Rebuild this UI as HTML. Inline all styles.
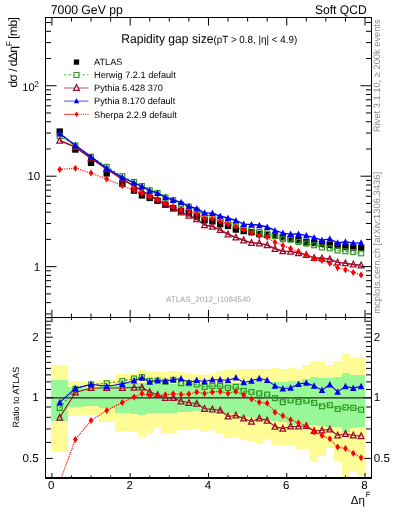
<!DOCTYPE html><html><head><meta charset="utf-8"><style>html,body{margin:0;padding:0;background:#fff;width:393px;height:512px;overflow:hidden}svg{display:block;font-family:"Liberation Sans",sans-serif}svg{will-change:transform}text{text-rendering:geometricPrecision}</style></head><body>
<svg width="393" height="512" viewBox="0 0 393 512">
<defs><clipPath id="cm"><rect x="45.5" y="17.5" width="326" height="300"/></clipPath>
<clipPath id="cr"><rect x="45.5" y="317.5" width="326" height="160.5"/></clipPath></defs>
<g clip-path="url(#cr)" shape-rendering="crispEdges">
<rect x="51.1" y="365.1" width="16.66" height="86.4" fill="#fffc96"/>
<rect x="67.56" y="381.3" width="15.86" height="34.2" fill="#fffc96"/>
<rect x="83.21" y="382" width="15.86" height="32.5" fill="#fffc96"/>
<rect x="98.87" y="379.5" width="15.86" height="42.3" fill="#fffc96"/>
<rect x="114.52" y="374" width="15.86" height="57" fill="#fffc96"/>
<rect x="130.18" y="373.8" width="8.03" height="58.2" fill="#fffc96"/>
<rect x="138.01" y="370" width="8.03" height="67.4" fill="#fffc96"/>
<rect x="145.84" y="372.4" width="8.03" height="60.6" fill="#fffc96"/>
<rect x="153.66" y="371.3" width="8.03" height="57" fill="#fffc96"/>
<rect x="161.49" y="371.8" width="8.03" height="60.7" fill="#fffc96"/>
<rect x="169.32" y="371.3" width="8.03" height="61.2" fill="#fffc96"/>
<rect x="177.15" y="372.2" width="8.03" height="57.3" fill="#fffc96"/>
<rect x="184.98" y="372.6" width="8.03" height="56.9" fill="#fffc96"/>
<rect x="192.8" y="373.8" width="8.03" height="54.7" fill="#fffc96"/>
<rect x="200.63" y="375.3" width="8.03" height="56.2" fill="#fffc96"/>
<rect x="208.46" y="374.3" width="8.03" height="55.7" fill="#fffc96"/>
<rect x="216.29" y="371.2" width="8.03" height="62.7" fill="#fffc96"/>
<rect x="224.12" y="370.2" width="8.03" height="67.6" fill="#fffc96"/>
<rect x="231.94" y="369.8" width="8.03" height="67.3" fill="#fffc96"/>
<rect x="239.77" y="369.2" width="8.03" height="70.8" fill="#fffc96"/>
<rect x="247.6" y="369.2" width="8.03" height="72" fill="#fffc96"/>
<rect x="255.43" y="368.6" width="8.03" height="74.9" fill="#fffc96"/>
<rect x="263.26" y="369.2" width="8.03" height="70.2" fill="#fffc96"/>
<rect x="271.08" y="368.1" width="8.03" height="76.6" fill="#fffc96"/>
<rect x="278.91" y="369.2" width="8.03" height="75.5" fill="#fffc96"/>
<rect x="286.74" y="368" width="8.03" height="76.6" fill="#fffc96"/>
<rect x="294.57" y="369.1" width="8.03" height="80.2" fill="#fffc96"/>
<rect x="302.4" y="364.6" width="8.03" height="84.7" fill="#fffc96"/>
<rect x="310.22" y="361.3" width="8.03" height="100.7" fill="#fffc96"/>
<rect x="318.05" y="361.7" width="8.03" height="93.8" fill="#fffc96"/>
<rect x="325.88" y="364.6" width="8.03" height="83" fill="#fffc96"/>
<rect x="333.71" y="360.8" width="8.03" height="101" fill="#fffc96"/>
<rect x="341.54" y="353.9" width="8.03" height="124.6" fill="#fffc96"/>
<rect x="349.36" y="357.9" width="8.03" height="114.1" fill="#fffc96"/>
<rect x="357.19" y="356.8" width="8.03" height="119.5" fill="#fffc96"/>
<rect x="51.1" y="380.2" width="16.66" height="40.3" fill="#98f898"/>
<rect x="67.56" y="387" width="15.86" height="19.8" fill="#98f898"/>
<rect x="83.21" y="388" width="15.86" height="17.8" fill="#98f898"/>
<rect x="98.87" y="386.3" width="15.86" height="21.7" fill="#98f898"/>
<rect x="114.52" y="383" width="15.86" height="30" fill="#98f898"/>
<rect x="130.18" y="383" width="8.03" height="31" fill="#98f898"/>
<rect x="138.01" y="383" width="8.03" height="31.5" fill="#98f898"/>
<rect x="145.84" y="383.5" width="8.03" height="29.9" fill="#98f898"/>
<rect x="153.66" y="383.5" width="8.03" height="29.9" fill="#98f898"/>
<rect x="161.49" y="383.5" width="8.03" height="29.9" fill="#98f898"/>
<rect x="169.32" y="383.5" width="8.03" height="29.9" fill="#98f898"/>
<rect x="177.15" y="384" width="8.03" height="28" fill="#98f898"/>
<rect x="184.98" y="384" width="8.03" height="28" fill="#98f898"/>
<rect x="192.8" y="384" width="8.03" height="27" fill="#98f898"/>
<rect x="200.63" y="384.5" width="8.03" height="26" fill="#98f898"/>
<rect x="208.46" y="384" width="8.03" height="27.4" fill="#98f898"/>
<rect x="216.29" y="384" width="8.03" height="28.6" fill="#98f898"/>
<rect x="224.12" y="383.4" width="8.03" height="30.3" fill="#98f898"/>
<rect x="231.94" y="383" width="8.03" height="31.2" fill="#98f898"/>
<rect x="239.77" y="382.5" width="8.03" height="34" fill="#98f898"/>
<rect x="247.6" y="382.4" width="8.03" height="34.8" fill="#98f898"/>
<rect x="255.43" y="381.4" width="8.03" height="38.1" fill="#98f898"/>
<rect x="263.26" y="381.6" width="8.03" height="38.6" fill="#98f898"/>
<rect x="271.08" y="381.6" width="8.03" height="39" fill="#98f898"/>
<rect x="278.91" y="381.6" width="8.03" height="40.2" fill="#98f898"/>
<rect x="286.74" y="381" width="8.03" height="44" fill="#98f898"/>
<rect x="294.57" y="381" width="8.03" height="42.8" fill="#98f898"/>
<rect x="302.4" y="378.5" width="8.03" height="46.5" fill="#98f898"/>
<rect x="310.22" y="376.9" width="8.03" height="48.1" fill="#98f898"/>
<rect x="318.05" y="377.6" width="8.03" height="48.4" fill="#98f898"/>
<rect x="325.88" y="378" width="8.03" height="49.2" fill="#98f898"/>
<rect x="333.71" y="376.9" width="8.03" height="50.3" fill="#98f898"/>
<rect x="341.54" y="373.1" width="8.03" height="58.6" fill="#98f898"/>
<rect x="349.36" y="374.7" width="8.03" height="52.8" fill="#98f898"/>
<rect x="357.19" y="374.7" width="8.03" height="52" fill="#98f898"/>
</g>
<line x1="45.5" y1="397.8" x2="371.5" y2="397.8" stroke="#222" stroke-width="1.2"/>
<g clip-path="url(#cm)">
<rect x="56.53" y="128.4" width="6.4" height="6.4" fill="#000"/>
<rect x="72.18" y="146.3" width="6.4" height="6.4" fill="#000"/>
<rect x="87.84" y="159.6" width="6.4" height="6.4" fill="#000"/>
<rect x="103.5" y="170.2" width="6.4" height="6.4" fill="#000"/>
<rect x="119.15" y="180.5" width="6.4" height="6.4" fill="#000"/>
<rect x="130.89" y="187.4" width="6.4" height="6.4" fill="#000"/>
<rect x="138.72" y="192.2" width="6.4" height="6.4" fill="#000"/>
<rect x="146.55" y="194.7" width="6.4" height="6.4" fill="#000"/>
<rect x="154.38" y="197.6" width="6.4" height="6.4" fill="#000"/>
<rect x="162.21" y="201.5" width="6.4" height="6.4" fill="#000"/>
<rect x="170.03" y="205" width="6.4" height="6.4" fill="#000"/>
<rect x="177.86" y="207.7" width="6.4" height="6.4" fill="#000"/>
<rect x="185.69" y="210" width="6.4" height="6.4" fill="#000"/>
<rect x="193.52" y="213.3" width="6.4" height="6.4" fill="#000"/>
<rect x="201.35" y="217" width="6.4" height="6.4" fill="#000"/>
<rect x="209.17" y="218.1" width="6.4" height="6.4" fill="#000"/>
<rect x="217" y="221" width="6.4" height="6.4" fill="#000"/>
<rect x="224.83" y="222.7" width="6.4" height="6.4" fill="#000"/>
<rect x="232.66" y="226.3" width="6.4" height="6.4" fill="#000"/>
<rect x="240.49" y="227.8" width="6.4" height="6.4" fill="#000"/>
<rect x="248.31" y="229" width="6.4" height="6.4" fill="#000"/>
<rect x="256.14" y="230.8" width="6.4" height="6.4" fill="#000"/>
<rect x="263.97" y="231.7" width="6.4" height="6.4" fill="#000"/>
<rect x="271.8" y="232.6" width="6.4" height="6.4" fill="#000"/>
<rect x="279.63" y="234.1" width="6.4" height="6.4" fill="#000"/>
<rect x="287.45" y="235.4" width="6.4" height="6.4" fill="#000"/>
<rect x="295.28" y="237" width="6.4" height="6.4" fill="#000"/>
<rect x="303.11" y="239.1" width="6.4" height="6.4" fill="#000"/>
<rect x="310.94" y="239.8" width="6.4" height="6.4" fill="#000"/>
<rect x="318.77" y="240.4" width="6.4" height="6.4" fill="#000"/>
<rect x="326.59" y="241.7" width="6.4" height="6.4" fill="#000"/>
<rect x="334.42" y="242.3" width="6.4" height="6.4" fill="#000"/>
<rect x="342.25" y="243.8" width="6.4" height="6.4" fill="#000"/>
<rect x="350.08" y="244.3" width="6.4" height="6.4" fill="#000"/>
<rect x="357.91" y="244.8" width="6.4" height="6.4" fill="#000"/>
</g>
<g clip-path="url(#cm)"><polyline points="59.73,136.18 75.38,145.55 91.04,156.78 106.7,166.88 122.35,176.15 134.09,181.93 141.92,186.1 149.75,190.26 157.58,193.07 165.41,197.51 173.23,200.16 181.06,204.29 188.89,206.64 196.72,210.48 204.55,215.3 212.37,215.95 220.2,218.85 228.03,221.45 235.86,224.6 243.69,227.9 251.51,229.59 259.34,232.02 267.17,233.46 275,235.93 282.83,239.28 290.65,239.72 298.48,242 306.31,243.6 314.14,245.29 321.97,247.42 329.79,248.23 337.62,250.53 345.45,251.31 353.28,252.04 361.11,253.35" fill="none" stroke="#2f9a1f" stroke-width="1.3" stroke-dasharray="2 2"/><rect x="57.28" y="133.73" width="4.9" height="4.9" fill="none" stroke="#2f9a1f" stroke-width="1.2"/><rect x="72.93" y="143.1" width="4.9" height="4.9" fill="none" stroke="#2f9a1f" stroke-width="1.2"/><rect x="88.59" y="154.33" width="4.9" height="4.9" fill="none" stroke="#2f9a1f" stroke-width="1.2"/><rect x="104.25" y="164.43" width="4.9" height="4.9" fill="none" stroke="#2f9a1f" stroke-width="1.2"/><rect x="119.9" y="173.7" width="4.9" height="4.9" fill="none" stroke="#2f9a1f" stroke-width="1.2"/><rect x="131.64" y="179.48" width="4.9" height="4.9" fill="none" stroke="#2f9a1f" stroke-width="1.2"/><rect x="139.47" y="183.65" width="4.9" height="4.9" fill="none" stroke="#2f9a1f" stroke-width="1.2"/><rect x="147.3" y="187.81" width="4.9" height="4.9" fill="none" stroke="#2f9a1f" stroke-width="1.2"/><rect x="155.13" y="190.62" width="4.9" height="4.9" fill="none" stroke="#2f9a1f" stroke-width="1.2"/><rect x="162.96" y="195.06" width="4.9" height="4.9" fill="none" stroke="#2f9a1f" stroke-width="1.2"/><rect x="170.78" y="197.71" width="4.9" height="4.9" fill="none" stroke="#2f9a1f" stroke-width="1.2"/><rect x="178.61" y="201.84" width="4.9" height="4.9" fill="none" stroke="#2f9a1f" stroke-width="1.2"/><rect x="186.44" y="204.19" width="4.9" height="4.9" fill="none" stroke="#2f9a1f" stroke-width="1.2"/><rect x="194.27" y="208.03" width="4.9" height="4.9" fill="none" stroke="#2f9a1f" stroke-width="1.2"/><rect x="202.1" y="212.85" width="4.9" height="4.9" fill="none" stroke="#2f9a1f" stroke-width="1.2"/><rect x="209.92" y="213.5" width="4.9" height="4.9" fill="none" stroke="#2f9a1f" stroke-width="1.2"/><rect x="217.75" y="216.4" width="4.9" height="4.9" fill="none" stroke="#2f9a1f" stroke-width="1.2"/><rect x="225.58" y="219" width="4.9" height="4.9" fill="none" stroke="#2f9a1f" stroke-width="1.2"/><rect x="233.41" y="222.15" width="4.9" height="4.9" fill="none" stroke="#2f9a1f" stroke-width="1.2"/><rect x="241.24" y="225.45" width="4.9" height="4.9" fill="none" stroke="#2f9a1f" stroke-width="1.2"/><rect x="249.06" y="227.14" width="4.9" height="4.9" fill="none" stroke="#2f9a1f" stroke-width="1.2"/><rect x="256.89" y="229.57" width="4.9" height="4.9" fill="none" stroke="#2f9a1f" stroke-width="1.2"/><rect x="264.72" y="231.01" width="4.9" height="4.9" fill="none" stroke="#2f9a1f" stroke-width="1.2"/><rect x="272.55" y="233.48" width="4.9" height="4.9" fill="none" stroke="#2f9a1f" stroke-width="1.2"/><rect x="280.38" y="236.83" width="4.9" height="4.9" fill="none" stroke="#2f9a1f" stroke-width="1.2"/><rect x="288.2" y="237.27" width="4.9" height="4.9" fill="none" stroke="#2f9a1f" stroke-width="1.2"/><rect x="296.03" y="239.55" width="4.9" height="4.9" fill="none" stroke="#2f9a1f" stroke-width="1.2"/><rect x="303.86" y="241.15" width="4.9" height="4.9" fill="none" stroke="#2f9a1f" stroke-width="1.2"/><rect x="311.69" y="242.84" width="4.9" height="4.9" fill="none" stroke="#2f9a1f" stroke-width="1.2"/><rect x="319.52" y="244.97" width="4.9" height="4.9" fill="none" stroke="#2f9a1f" stroke-width="1.2"/><rect x="327.34" y="245.78" width="4.9" height="4.9" fill="none" stroke="#2f9a1f" stroke-width="1.2"/><rect x="335.17" y="248.08" width="4.9" height="4.9" fill="none" stroke="#2f9a1f" stroke-width="1.2"/><rect x="343" y="248.86" width="4.9" height="4.9" fill="none" stroke="#2f9a1f" stroke-width="1.2"/><rect x="350.83" y="249.59" width="4.9" height="4.9" fill="none" stroke="#2f9a1f" stroke-width="1.2"/><rect x="358.66" y="250.9" width="4.9" height="4.9" fill="none" stroke="#2f9a1f" stroke-width="1.2"/></g>
<g clip-path="url(#cm)"><polyline points="59.73,140.5 75.38,147.07 91.04,158.35 106.7,168.95 122.35,179.25 134.09,186.02 141.92,190.73 149.75,195.29 157.58,199.45 165.41,204.66 173.23,208.24 181.06,212.43 188.89,215.45 196.72,219.11 204.55,225.1 212.37,226.47 220.2,229.82 228.03,234.26 235.86,237.41 243.69,240.26 251.51,242.85 259.34,243.26 267.17,245.1 275,248.74 282.83,251.14 290.65,251.45 298.48,253.05 306.31,254.88 314.14,257.87 321.97,258.2 329.79,259.1 337.62,262.39 345.45,263.18 353.28,264.39 361.11,265.21" fill="none" stroke="#9c0a28" stroke-width="1.5"/><polygon points="59.73,137.36 56.88,143.06 62.58,143.06" fill="none" stroke="#9c0a28" stroke-width="1.25"/><polygon points="75.38,143.94 72.53,149.64 78.23,149.64" fill="none" stroke="#9c0a28" stroke-width="1.25"/><polygon points="91.04,155.22 88.19,160.92 93.89,160.92" fill="none" stroke="#9c0a28" stroke-width="1.25"/><polygon points="106.7,165.82 103.85,171.52 109.55,171.52" fill="none" stroke="#9c0a28" stroke-width="1.25"/><polygon points="122.35,176.12 119.5,181.82 125.2,181.82" fill="none" stroke="#9c0a28" stroke-width="1.25"/><polygon points="134.09,182.88 131.24,188.58 136.94,188.58" fill="none" stroke="#9c0a28" stroke-width="1.25"/><polygon points="141.92,187.59 139.07,193.29 144.77,193.29" fill="none" stroke="#9c0a28" stroke-width="1.25"/><polygon points="149.75,192.16 146.9,197.86 152.6,197.86" fill="none" stroke="#9c0a28" stroke-width="1.25"/><polygon points="157.58,196.32 154.73,202.02 160.43,202.02" fill="none" stroke="#9c0a28" stroke-width="1.25"/><polygon points="165.41,201.52 162.56,207.22 168.26,207.22" fill="none" stroke="#9c0a28" stroke-width="1.25"/><polygon points="173.23,205.11 170.38,210.81 176.08,210.81" fill="none" stroke="#9c0a28" stroke-width="1.25"/><polygon points="181.06,209.29 178.21,214.99 183.91,214.99" fill="none" stroke="#9c0a28" stroke-width="1.25"/><polygon points="188.89,212.31 186.04,218.01 191.74,218.01" fill="none" stroke="#9c0a28" stroke-width="1.25"/><polygon points="196.72,215.97 193.87,221.67 199.57,221.67" fill="none" stroke="#9c0a28" stroke-width="1.25"/><polygon points="204.55,221.96 201.7,227.66 207.4,227.66" fill="none" stroke="#9c0a28" stroke-width="1.25"/><polygon points="212.37,223.33 209.52,229.03 215.22,229.03" fill="none" stroke="#9c0a28" stroke-width="1.25"/><polygon points="220.2,226.68 217.35,232.38 223.05,232.38" fill="none" stroke="#9c0a28" stroke-width="1.25"/><polygon points="228.03,231.12 225.18,236.82 230.88,236.82" fill="none" stroke="#9c0a28" stroke-width="1.25"/><polygon points="235.86,234.27 233.01,239.97 238.71,239.97" fill="none" stroke="#9c0a28" stroke-width="1.25"/><polygon points="243.69,237.12 240.84,242.82 246.54,242.82" fill="none" stroke="#9c0a28" stroke-width="1.25"/><polygon points="251.51,239.71 248.66,245.41 254.36,245.41" fill="none" stroke="#9c0a28" stroke-width="1.25"/><polygon points="259.34,240.12 256.49,245.82 262.19,245.82" fill="none" stroke="#9c0a28" stroke-width="1.25"/><polygon points="267.17,241.96 264.32,247.66 270.02,247.66" fill="none" stroke="#9c0a28" stroke-width="1.25"/><polygon points="275,245.61 272.15,251.31 277.85,251.31" fill="none" stroke="#9c0a28" stroke-width="1.25"/><polygon points="282.83,248 279.98,253.7 285.68,253.7" fill="none" stroke="#9c0a28" stroke-width="1.25"/><polygon points="290.65,248.32 287.8,254.02 293.5,254.02" fill="none" stroke="#9c0a28" stroke-width="1.25"/><polygon points="298.48,249.92 295.63,255.62 301.33,255.62" fill="none" stroke="#9c0a28" stroke-width="1.25"/><polygon points="306.31,251.75 303.46,257.45 309.16,257.45" fill="none" stroke="#9c0a28" stroke-width="1.25"/><polygon points="314.14,254.74 311.29,260.44 316.99,260.44" fill="none" stroke="#9c0a28" stroke-width="1.25"/><polygon points="321.97,255.07 319.12,260.77 324.82,260.77" fill="none" stroke="#9c0a28" stroke-width="1.25"/><polygon points="329.79,255.96 326.94,261.66 332.64,261.66" fill="none" stroke="#9c0a28" stroke-width="1.25"/><polygon points="337.62,259.26 334.77,264.96 340.47,264.96" fill="none" stroke="#9c0a28" stroke-width="1.25"/><polygon points="345.45,260.04 342.6,265.74 348.3,265.74" fill="none" stroke="#9c0a28" stroke-width="1.25"/><polygon points="353.28,261.26 350.43,266.96 356.13,266.96" fill="none" stroke="#9c0a28" stroke-width="1.25"/><polygon points="361.11,262.07 358.26,267.77 363.96,267.77" fill="none" stroke="#9c0a28" stroke-width="1.25"/></g>
<g clip-path="url(#cm)"><polyline points="59.73,133.62 75.38,145.23 91.04,156.78 106.7,168.23 122.35,177.5 134.09,182.92 141.92,186.41 149.75,190.71 157.58,192.98 165.41,197.24 173.23,199.98 181.06,202.32 188.89,206.28 196.72,208.59 204.55,212.83 212.37,213.17 220.2,216.07 228.03,217.99 235.86,220.47 243.69,224.08 251.51,224.56 259.34,225.24 267.17,226.99 275,230.45 282.83,233.12 290.65,234.15 298.48,234.04 306.31,235.6 314.14,237.65 321.97,240.14 329.79,238.92 337.62,242.85 345.45,241.83 353.28,243.14 361.11,242.83" fill="none" stroke="#0000f0" stroke-width="1.4"/><polygon points="59.73,130.05 56.48,136.55 62.98,136.55" fill="#0000f0"/><polygon points="75.38,141.66 72.13,148.16 78.63,148.16" fill="#0000f0"/><polygon points="91.04,153.2 87.79,159.7 94.29,159.7" fill="#0000f0"/><polygon points="106.7,164.66 103.45,171.16 109.95,171.16" fill="#0000f0"/><polygon points="122.35,173.92 119.1,180.42 125.6,180.42" fill="#0000f0"/><polygon points="134.09,179.34 130.84,185.84 137.34,185.84" fill="#0000f0"/><polygon points="141.92,182.84 138.67,189.34 145.17,189.34" fill="#0000f0"/><polygon points="149.75,187.14 146.5,193.64 153,193.64" fill="#0000f0"/><polygon points="157.58,189.41 154.33,195.91 160.83,195.91" fill="#0000f0"/><polygon points="165.41,193.67 162.16,200.17 168.66,200.17" fill="#0000f0"/><polygon points="173.23,196.4 169.98,202.9 176.48,202.9" fill="#0000f0"/><polygon points="181.06,198.74 177.81,205.24 184.31,205.24" fill="#0000f0"/><polygon points="188.89,202.71 185.64,209.21 192.14,209.21" fill="#0000f0"/><polygon points="196.72,205.02 193.47,211.52 199.97,211.52" fill="#0000f0"/><polygon points="204.55,209.26 201.3,215.76 207.8,215.76" fill="#0000f0"/><polygon points="212.37,209.59 209.12,216.09 215.62,216.09" fill="#0000f0"/><polygon points="220.2,212.49 216.95,218.99 223.45,218.99" fill="#0000f0"/><polygon points="228.03,214.42 224.78,220.92 231.28,220.92" fill="#0000f0"/><polygon points="235.86,216.89 232.61,223.39 239.11,223.39" fill="#0000f0"/><polygon points="243.69,220.51 240.44,227.01 246.94,227.01" fill="#0000f0"/><polygon points="251.51,220.99 248.26,227.49 254.76,227.49" fill="#0000f0"/><polygon points="259.34,221.66 256.09,228.16 262.59,228.16" fill="#0000f0"/><polygon points="267.17,223.42 263.92,229.92 270.42,229.92" fill="#0000f0"/><polygon points="275,226.88 271.75,233.38 278.25,233.38" fill="#0000f0"/><polygon points="282.83,229.55 279.58,236.05 286.08,236.05" fill="#0000f0"/><polygon points="290.65,230.58 287.4,237.08 293.9,237.08" fill="#0000f0"/><polygon points="298.48,230.47 295.23,236.97 301.73,236.97" fill="#0000f0"/><polygon points="306.31,232.03 303.06,238.53 309.56,238.53" fill="#0000f0"/><polygon points="314.14,234.08 310.89,240.58 317.39,240.58" fill="#0000f0"/><polygon points="321.97,236.57 318.72,243.07 325.22,243.07" fill="#0000f0"/><polygon points="329.79,235.35 326.54,241.85 333.04,241.85" fill="#0000f0"/><polygon points="337.62,239.27 334.37,245.77 340.87,245.77" fill="#0000f0"/><polygon points="345.45,238.26 342.2,244.76 348.7,244.76" fill="#0000f0"/><polygon points="353.28,239.57 350.03,246.07 356.53,246.07" fill="#0000f0"/><polygon points="361.11,239.26 357.86,245.76 364.36,245.76" fill="#0000f0"/></g>
<g clip-path="url(#cm)"><polyline points="59.73,169.43 75.38,168.19 91.04,173.04 106.7,179.06 122.35,185.77 134.09,190.29 141.92,193.51 149.75,197 157.58,199.72 165.41,203.35 173.23,206.4 181.06,209.46 188.89,211.49 196.72,213.89 204.55,218.22 212.37,218.69 220.2,221.32 228.03,223.92 235.86,226.62 243.69,229.74 251.51,232.78 259.34,235.98 267.17,237.33 275,242.32 282.83,245.39 290.65,248.44 298.48,251.57 306.31,254.88 314.14,258.41 321.97,260.49 329.79,263.32 337.62,267.65 345.45,269.74 353.28,272.44 361.11,274.96" fill="none" stroke="#ff0000" stroke-width="1.3" stroke-dasharray="1 1.3"/><polygon points="59.73,165.93 62.08,169.43 59.73,172.93 57.38,169.43" fill="#ff0000"/><polygon points="75.38,164.69 77.73,168.19 75.38,171.69 73.03,168.19" fill="#ff0000"/><polygon points="91.04,169.54 93.39,173.04 91.04,176.54 88.69,173.04" fill="#ff0000"/><polygon points="106.7,175.56 109.05,179.06 106.7,182.56 104.35,179.06" fill="#ff0000"/><polygon points="122.35,182.27 124.7,185.77 122.35,189.27 120,185.77" fill="#ff0000"/><polygon points="134.09,186.79 136.44,190.29 134.09,193.79 131.74,190.29" fill="#ff0000"/><polygon points="141.92,190.01 144.27,193.51 141.92,197.01 139.57,193.51" fill="#ff0000"/><polygon points="149.75,193.5 152.1,197 149.75,200.5 147.4,197" fill="#ff0000"/><polygon points="157.58,196.22 159.93,199.72 157.58,203.22 155.23,199.72" fill="#ff0000"/><polygon points="165.41,199.85 167.76,203.35 165.41,206.85 163.06,203.35" fill="#ff0000"/><polygon points="173.23,202.9 175.58,206.4 173.23,209.9 170.88,206.4" fill="#ff0000"/><polygon points="181.06,205.96 183.41,209.46 181.06,212.96 178.71,209.46" fill="#ff0000"/><polygon points="188.89,207.99 191.24,211.49 188.89,214.99 186.54,211.49" fill="#ff0000"/><polygon points="196.72,210.39 199.07,213.89 196.72,217.39 194.37,213.89" fill="#ff0000"/><polygon points="204.55,214.72 206.9,218.22 204.55,221.72 202.2,218.22" fill="#ff0000"/><polygon points="212.37,215.19 214.72,218.69 212.37,222.19 210.02,218.69" fill="#ff0000"/><polygon points="220.2,217.82 222.55,221.32 220.2,224.82 217.85,221.32" fill="#ff0000"/><polygon points="228.03,220.42 230.38,223.92 228.03,227.42 225.68,223.92" fill="#ff0000"/><polygon points="235.86,223.12 238.21,226.62 235.86,230.12 233.51,226.62" fill="#ff0000"/><polygon points="243.69,226.24 246.04,229.74 243.69,233.24 241.34,229.74" fill="#ff0000"/><polygon points="251.51,229.28 253.86,232.78 251.51,236.28 249.16,232.78" fill="#ff0000"/><polygon points="259.34,232.48 261.69,235.98 259.34,239.48 256.99,235.98" fill="#ff0000"/><polygon points="267.17,233.83 269.52,237.33 267.17,240.83 264.82,237.33" fill="#ff0000"/><polygon points="275,238.82 277.35,242.32 275,245.82 272.65,242.32" fill="#ff0000"/><polygon points="282.83,241.89 285.18,245.39 282.83,248.89 280.48,245.39" fill="#ff0000"/><polygon points="290.65,244.94 293,248.44 290.65,251.94 288.3,248.44" fill="#ff0000"/><polygon points="298.48,248.07 300.83,251.57 298.48,255.07 296.13,251.57" fill="#ff0000"/><polygon points="306.31,251.38 308.66,254.88 306.31,258.38 303.96,254.88" fill="#ff0000"/><polygon points="314.14,254.91 316.49,258.41 314.14,261.91 311.79,258.41" fill="#ff0000"/><polygon points="321.97,256.99 324.32,260.49 321.97,263.99 319.62,260.49" fill="#ff0000"/><polygon points="329.79,259.82 332.14,263.32 329.79,266.82 327.44,263.32" fill="#ff0000"/><polygon points="337.62,264.15 339.97,267.65 337.62,271.15 335.27,267.65" fill="#ff0000"/><polygon points="345.45,266.24 347.8,269.74 345.45,273.24 343.1,269.74" fill="#ff0000"/><polygon points="353.28,268.94 355.63,272.44 353.28,275.94 350.93,272.44" fill="#ff0000"/><polygon points="361.11,271.46 363.46,274.96 361.11,278.46 358.76,274.96" fill="#ff0000"/></g>
<g clip-path="url(#cr)"><polyline points="59.73,408 75.38,389 91.04,384.4 106.7,383.3 122.35,381 134.09,378.5 141.92,377.1 149.75,380.8 157.58,380.6 165.41,381.8 173.23,379.9 181.06,383.1 188.89,383.2 196.72,384.4 204.55,386.9 212.37,385.9 220.2,385.9 228.03,387.9 235.86,386.9 243.69,390.9 251.51,392 259.34,393.4 267.17,394.6 275,398.1 282.83,402.2 290.65,400.3 298.48,401.8 306.31,400.7 314.14,402.9 321.97,406.3 329.79,405.2 337.62,409 345.45,407.4 353.28,407.9 361.11,409.7" fill="none" stroke="#2f9a1f" stroke-width="1.1" stroke-dasharray="2.2 2"/><rect x="57.28" y="405.55" width="4.9" height="4.9" fill="none" stroke="#2f9a1f" stroke-width="1.2"/><rect x="72.93" y="386.55" width="4.9" height="4.9" fill="none" stroke="#2f9a1f" stroke-width="1.2"/><rect x="88.59" y="381.95" width="4.9" height="4.9" fill="none" stroke="#2f9a1f" stroke-width="1.2"/><rect x="104.25" y="380.85" width="4.9" height="4.9" fill="none" stroke="#2f9a1f" stroke-width="1.2"/><rect x="119.9" y="378.55" width="4.9" height="4.9" fill="none" stroke="#2f9a1f" stroke-width="1.2"/><rect x="131.64" y="376.05" width="4.9" height="4.9" fill="none" stroke="#2f9a1f" stroke-width="1.2"/><rect x="139.47" y="374.65" width="4.9" height="4.9" fill="none" stroke="#2f9a1f" stroke-width="1.2"/><rect x="147.3" y="378.35" width="4.9" height="4.9" fill="none" stroke="#2f9a1f" stroke-width="1.2"/><rect x="155.13" y="378.15" width="4.9" height="4.9" fill="none" stroke="#2f9a1f" stroke-width="1.2"/><rect x="162.96" y="379.35" width="4.9" height="4.9" fill="none" stroke="#2f9a1f" stroke-width="1.2"/><rect x="170.78" y="377.45" width="4.9" height="4.9" fill="none" stroke="#2f9a1f" stroke-width="1.2"/><rect x="178.61" y="380.65" width="4.9" height="4.9" fill="none" stroke="#2f9a1f" stroke-width="1.2"/><rect x="186.44" y="380.75" width="4.9" height="4.9" fill="none" stroke="#2f9a1f" stroke-width="1.2"/><rect x="194.27" y="381.95" width="4.9" height="4.9" fill="none" stroke="#2f9a1f" stroke-width="1.2"/><rect x="202.1" y="384.45" width="4.9" height="4.9" fill="none" stroke="#2f9a1f" stroke-width="1.2"/><rect x="209.92" y="383.45" width="4.9" height="4.9" fill="none" stroke="#2f9a1f" stroke-width="1.2"/><rect x="217.75" y="383.45" width="4.9" height="4.9" fill="none" stroke="#2f9a1f" stroke-width="1.2"/><rect x="225.58" y="385.45" width="4.9" height="4.9" fill="none" stroke="#2f9a1f" stroke-width="1.2"/><rect x="233.41" y="384.45" width="4.9" height="4.9" fill="none" stroke="#2f9a1f" stroke-width="1.2"/><rect x="241.24" y="388.45" width="4.9" height="4.9" fill="none" stroke="#2f9a1f" stroke-width="1.2"/><rect x="249.06" y="389.55" width="4.9" height="4.9" fill="none" stroke="#2f9a1f" stroke-width="1.2"/><rect x="256.89" y="390.95" width="4.9" height="4.9" fill="none" stroke="#2f9a1f" stroke-width="1.2"/><rect x="264.72" y="392.15" width="4.9" height="4.9" fill="none" stroke="#2f9a1f" stroke-width="1.2"/><rect x="272.55" y="395.65" width="4.9" height="4.9" fill="none" stroke="#2f9a1f" stroke-width="1.2"/><rect x="280.38" y="399.75" width="4.9" height="4.9" fill="none" stroke="#2f9a1f" stroke-width="1.2"/><rect x="288.2" y="397.85" width="4.9" height="4.9" fill="none" stroke="#2f9a1f" stroke-width="1.2"/><rect x="296.03" y="399.35" width="4.9" height="4.9" fill="none" stroke="#2f9a1f" stroke-width="1.2"/><rect x="303.86" y="398.25" width="4.9" height="4.9" fill="none" stroke="#2f9a1f" stroke-width="1.2"/><rect x="311.69" y="400.45" width="4.9" height="4.9" fill="none" stroke="#2f9a1f" stroke-width="1.2"/><rect x="319.52" y="403.85" width="4.9" height="4.9" fill="none" stroke="#2f9a1f" stroke-width="1.2"/><rect x="327.34" y="402.75" width="4.9" height="4.9" fill="none" stroke="#2f9a1f" stroke-width="1.2"/><rect x="335.17" y="406.55" width="4.9" height="4.9" fill="none" stroke="#2f9a1f" stroke-width="1.2"/><rect x="343" y="404.95" width="4.9" height="4.9" fill="none" stroke="#2f9a1f" stroke-width="1.2"/><rect x="350.83" y="405.45" width="4.9" height="4.9" fill="none" stroke="#2f9a1f" stroke-width="1.2"/><rect x="358.66" y="407.25" width="4.9" height="4.9" fill="none" stroke="#2f9a1f" stroke-width="1.2"/></g>
<g clip-path="url(#cr)"><polyline points="59.73,417.6 75.38,392.4 91.04,387.9 106.7,387.9 122.35,387.9 134.09,387.6 141.92,387.4 149.75,392 157.58,394.8 165.41,397.7 173.23,397.9 181.06,401.2 188.89,402.8 196.72,403.6 204.55,408.7 212.37,409.3 220.2,410.3 228.03,416.4 235.86,415.4 243.69,418.4 251.51,421.5 259.34,418.4 267.17,420.5 275,426.6 282.83,428.6 290.65,426.4 298.48,426.4 306.31,425.8 314.14,430.9 321.97,430.3 329.79,429.4 337.62,435.4 345.45,433.8 353.28,435.4 361.11,436.1" fill="none" stroke="#9c0a28" stroke-width="1.05"/><polygon points="59.73,414.46 56.88,420.16 62.58,420.16" fill="none" stroke="#9c0a28" stroke-width="1.25"/><polygon points="75.38,389.26 72.53,394.96 78.23,394.96" fill="none" stroke="#9c0a28" stroke-width="1.25"/><polygon points="91.04,384.76 88.19,390.46 93.89,390.46" fill="none" stroke="#9c0a28" stroke-width="1.25"/><polygon points="106.7,384.76 103.85,390.46 109.55,390.46" fill="none" stroke="#9c0a28" stroke-width="1.25"/><polygon points="122.35,384.76 119.5,390.46 125.2,390.46" fill="none" stroke="#9c0a28" stroke-width="1.25"/><polygon points="134.09,384.46 131.24,390.16 136.94,390.16" fill="none" stroke="#9c0a28" stroke-width="1.25"/><polygon points="141.92,384.26 139.07,389.96 144.77,389.96" fill="none" stroke="#9c0a28" stroke-width="1.25"/><polygon points="149.75,388.87 146.9,394.56 152.6,394.56" fill="none" stroke="#9c0a28" stroke-width="1.25"/><polygon points="157.58,391.66 154.73,397.36 160.43,397.36" fill="none" stroke="#9c0a28" stroke-width="1.25"/><polygon points="165.41,394.56 162.56,400.26 168.26,400.26" fill="none" stroke="#9c0a28" stroke-width="1.25"/><polygon points="173.23,394.76 170.38,400.46 176.08,400.46" fill="none" stroke="#9c0a28" stroke-width="1.25"/><polygon points="181.06,398.06 178.21,403.76 183.91,403.76" fill="none" stroke="#9c0a28" stroke-width="1.25"/><polygon points="188.89,399.66 186.04,405.36 191.74,405.36" fill="none" stroke="#9c0a28" stroke-width="1.25"/><polygon points="196.72,400.46 193.87,406.16 199.57,406.16" fill="none" stroke="#9c0a28" stroke-width="1.25"/><polygon points="204.55,405.56 201.7,411.26 207.4,411.26" fill="none" stroke="#9c0a28" stroke-width="1.25"/><polygon points="212.37,406.16 209.52,411.86 215.22,411.86" fill="none" stroke="#9c0a28" stroke-width="1.25"/><polygon points="220.2,407.16 217.35,412.86 223.05,412.86" fill="none" stroke="#9c0a28" stroke-width="1.25"/><polygon points="228.03,413.26 225.18,418.96 230.88,418.96" fill="none" stroke="#9c0a28" stroke-width="1.25"/><polygon points="235.86,412.26 233.01,417.96 238.71,417.96" fill="none" stroke="#9c0a28" stroke-width="1.25"/><polygon points="243.69,415.26 240.84,420.96 246.54,420.96" fill="none" stroke="#9c0a28" stroke-width="1.25"/><polygon points="251.51,418.37 248.66,424.06 254.36,424.06" fill="none" stroke="#9c0a28" stroke-width="1.25"/><polygon points="259.34,415.26 256.49,420.96 262.19,420.96" fill="none" stroke="#9c0a28" stroke-width="1.25"/><polygon points="267.17,417.37 264.32,423.06 270.02,423.06" fill="none" stroke="#9c0a28" stroke-width="1.25"/><polygon points="275,423.46 272.15,429.16 277.85,429.16" fill="none" stroke="#9c0a28" stroke-width="1.25"/><polygon points="282.83,425.46 279.98,431.16 285.68,431.16" fill="none" stroke="#9c0a28" stroke-width="1.25"/><polygon points="290.65,423.26 287.8,428.96 293.5,428.96" fill="none" stroke="#9c0a28" stroke-width="1.25"/><polygon points="298.48,423.26 295.63,428.96 301.33,428.96" fill="none" stroke="#9c0a28" stroke-width="1.25"/><polygon points="306.31,422.66 303.46,428.36 309.16,428.36" fill="none" stroke="#9c0a28" stroke-width="1.25"/><polygon points="314.14,427.76 311.29,433.46 316.99,433.46" fill="none" stroke="#9c0a28" stroke-width="1.25"/><polygon points="321.97,427.16 319.12,432.86 324.82,432.86" fill="none" stroke="#9c0a28" stroke-width="1.25"/><polygon points="329.79,426.26 326.94,431.96 332.64,431.96" fill="none" stroke="#9c0a28" stroke-width="1.25"/><polygon points="337.62,432.26 334.77,437.96 340.47,437.96" fill="none" stroke="#9c0a28" stroke-width="1.25"/><polygon points="345.45,430.66 342.6,436.36 348.3,436.36" fill="none" stroke="#9c0a28" stroke-width="1.25"/><polygon points="353.28,432.26 350.43,437.96 356.13,437.96" fill="none" stroke="#9c0a28" stroke-width="1.25"/><polygon points="361.11,432.96 358.26,438.66 363.96,438.66" fill="none" stroke="#9c0a28" stroke-width="1.25"/></g>
<g clip-path="url(#cr)"><polyline points="59.73,402.3 75.38,388.3 91.04,384.4 106.7,386.3 122.35,384 134.09,380.7 141.92,377.8 149.75,381.8 157.58,380.4 165.41,381.2 173.23,379.5 181.06,378.7 188.89,382.4 196.72,380.2 204.55,381.4 212.37,379.7 220.2,379.7 228.03,380.2 235.86,377.7 243.69,382.4 251.51,380.8 259.34,378.3 267.17,380.2 275,385.9 282.83,388.5 290.65,387.9 298.48,384.1 306.31,382.9 314.14,385.9 321.97,390.1 329.79,384.5 337.62,391.9 345.45,386.3 353.28,388.1 361.11,386.3" fill="none" stroke="#0000f0" stroke-width="1.05"/><polygon points="59.73,398.72 56.48,405.22 62.98,405.22" fill="#0000f0"/><polygon points="75.38,384.72 72.13,391.22 78.63,391.22" fill="#0000f0"/><polygon points="91.04,380.82 87.79,387.32 94.29,387.32" fill="#0000f0"/><polygon points="106.7,382.72 103.45,389.22 109.95,389.22" fill="#0000f0"/><polygon points="122.35,380.43 119.1,386.93 125.6,386.93" fill="#0000f0"/><polygon points="134.09,377.12 130.84,383.62 137.34,383.62" fill="#0000f0"/><polygon points="141.92,374.22 138.67,380.72 145.17,380.72" fill="#0000f0"/><polygon points="149.75,378.22 146.5,384.72 153,384.72" fill="#0000f0"/><polygon points="157.58,376.82 154.33,383.32 160.83,383.32" fill="#0000f0"/><polygon points="165.41,377.62 162.16,384.12 168.66,384.12" fill="#0000f0"/><polygon points="173.23,375.93 169.98,382.43 176.48,382.43" fill="#0000f0"/><polygon points="181.06,375.12 177.81,381.62 184.31,381.62" fill="#0000f0"/><polygon points="188.89,378.82 185.64,385.32 192.14,385.32" fill="#0000f0"/><polygon points="196.72,376.62 193.47,383.12 199.97,383.12" fill="#0000f0"/><polygon points="204.55,377.82 201.3,384.32 207.8,384.32" fill="#0000f0"/><polygon points="212.37,376.12 209.12,382.62 215.62,382.62" fill="#0000f0"/><polygon points="220.2,376.12 216.95,382.62 223.45,382.62" fill="#0000f0"/><polygon points="228.03,376.62 224.78,383.12 231.28,383.12" fill="#0000f0"/><polygon points="235.86,374.12 232.61,380.62 239.11,380.62" fill="#0000f0"/><polygon points="243.69,378.82 240.44,385.32 246.94,385.32" fill="#0000f0"/><polygon points="251.51,377.22 248.26,383.72 254.76,383.72" fill="#0000f0"/><polygon points="259.34,374.72 256.09,381.22 262.59,381.22" fill="#0000f0"/><polygon points="267.17,376.62 263.92,383.12 270.42,383.12" fill="#0000f0"/><polygon points="275,382.32 271.75,388.82 278.25,388.82" fill="#0000f0"/><polygon points="282.83,384.93 279.58,391.43 286.08,391.43" fill="#0000f0"/><polygon points="290.65,384.32 287.4,390.82 293.9,390.82" fill="#0000f0"/><polygon points="298.48,380.52 295.23,387.02 301.73,387.02" fill="#0000f0"/><polygon points="306.31,379.32 303.06,385.82 309.56,385.82" fill="#0000f0"/><polygon points="314.14,382.32 310.89,388.82 317.39,388.82" fill="#0000f0"/><polygon points="321.97,386.52 318.72,393.02 325.22,393.02" fill="#0000f0"/><polygon points="329.79,380.93 326.54,387.43 333.04,387.43" fill="#0000f0"/><polygon points="337.62,388.32 334.37,394.82 340.87,394.82" fill="#0000f0"/><polygon points="345.45,382.72 342.2,389.22 348.7,389.22" fill="#0000f0"/><polygon points="353.28,384.52 350.03,391.02 356.53,391.02" fill="#0000f0"/><polygon points="361.11,382.72 357.86,389.22 364.36,389.22" fill="#0000f0"/></g>
<g clip-path="url(#cr)"><polyline points="59.73,482 75.38,439.4 91.04,420.6 106.7,410.4 122.35,402.4 134.09,397.1 141.92,393.6 149.75,395.8 157.58,395.4 165.41,394.8 173.23,393.8 181.06,394.6 188.89,394 196.72,392 204.55,393.4 212.37,392 220.2,391.4 228.03,393.4 235.86,391.4 243.69,395 251.51,399.1 259.34,402.2 267.17,403.2 275,412.3 282.83,415.8 290.65,419.7 298.48,423.1 306.31,425.8 314.14,432.1 321.97,435.4 329.79,438.8 337.62,447.1 345.45,448.4 353.28,453.3 361.11,457.8" fill="none" stroke="#ff0000" stroke-width="1.1" stroke-dasharray="1.2 1"/><polygon points="59.73,478.5 62.08,482 59.73,485.5 57.38,482" fill="#ff0000"/><polygon points="75.38,435.9 77.73,439.4 75.38,442.9 73.03,439.4" fill="#ff0000"/><polygon points="91.04,417.1 93.39,420.6 91.04,424.1 88.69,420.6" fill="#ff0000"/><polygon points="106.7,406.9 109.05,410.4 106.7,413.9 104.35,410.4" fill="#ff0000"/><polygon points="122.35,398.9 124.7,402.4 122.35,405.9 120,402.4" fill="#ff0000"/><polygon points="134.09,393.6 136.44,397.1 134.09,400.6 131.74,397.1" fill="#ff0000"/><polygon points="141.92,390.1 144.27,393.6 141.92,397.1 139.57,393.6" fill="#ff0000"/><polygon points="149.75,392.3 152.1,395.8 149.75,399.3 147.4,395.8" fill="#ff0000"/><polygon points="157.58,391.9 159.93,395.4 157.58,398.9 155.23,395.4" fill="#ff0000"/><polygon points="165.41,391.3 167.76,394.8 165.41,398.3 163.06,394.8" fill="#ff0000"/><polygon points="173.23,390.3 175.58,393.8 173.23,397.3 170.88,393.8" fill="#ff0000"/><polygon points="181.06,391.1 183.41,394.6 181.06,398.1 178.71,394.6" fill="#ff0000"/><polygon points="188.89,390.5 191.24,394 188.89,397.5 186.54,394" fill="#ff0000"/><polygon points="196.72,388.5 199.07,392 196.72,395.5 194.37,392" fill="#ff0000"/><polygon points="204.55,389.9 206.9,393.4 204.55,396.9 202.2,393.4" fill="#ff0000"/><polygon points="212.37,388.5 214.72,392 212.37,395.5 210.02,392" fill="#ff0000"/><polygon points="220.2,387.9 222.55,391.4 220.2,394.9 217.85,391.4" fill="#ff0000"/><polygon points="228.03,389.9 230.38,393.4 228.03,396.9 225.68,393.4" fill="#ff0000"/><polygon points="235.86,387.9 238.21,391.4 235.86,394.9 233.51,391.4" fill="#ff0000"/><polygon points="243.69,391.5 246.04,395 243.69,398.5 241.34,395" fill="#ff0000"/><polygon points="251.51,395.6 253.86,399.1 251.51,402.6 249.16,399.1" fill="#ff0000"/><polygon points="259.34,398.7 261.69,402.2 259.34,405.7 256.99,402.2" fill="#ff0000"/><polygon points="267.17,399.7 269.52,403.2 267.17,406.7 264.82,403.2" fill="#ff0000"/><polygon points="275,408.8 277.35,412.3 275,415.8 272.65,412.3" fill="#ff0000"/><polygon points="282.83,412.3 285.18,415.8 282.83,419.3 280.48,415.8" fill="#ff0000"/><polygon points="290.65,416.2 293,419.7 290.65,423.2 288.3,419.7" fill="#ff0000"/><polygon points="298.48,419.6 300.83,423.1 298.48,426.6 296.13,423.1" fill="#ff0000"/><polygon points="306.31,422.3 308.66,425.8 306.31,429.3 303.96,425.8" fill="#ff0000"/><polygon points="314.14,428.6 316.49,432.1 314.14,435.6 311.79,432.1" fill="#ff0000"/><polygon points="321.97,431.9 324.32,435.4 321.97,438.9 319.62,435.4" fill="#ff0000"/><polygon points="329.79,435.3 332.14,438.8 329.79,442.3 327.44,438.8" fill="#ff0000"/><polygon points="337.62,443.6 339.97,447.1 337.62,450.6 335.27,447.1" fill="#ff0000"/><polygon points="345.45,444.9 347.8,448.4 345.45,451.9 343.1,448.4" fill="#ff0000"/><polygon points="353.28,449.8 355.63,453.3 353.28,456.8 350.93,453.3" fill="#ff0000"/><polygon points="361.11,454.3 363.46,457.8 361.11,461.3 358.76,457.8" fill="#ff0000"/></g>
<line x1="51.9" y1="17.5" x2="51.9" y2="25.5" stroke="#000" stroke-width="1"/><line x1="51.9" y1="317.5" x2="51.9" y2="309.9" stroke="#000" stroke-width="1"/><line x1="51.9" y1="317.5" x2="51.9" y2="322.4" stroke="#000" stroke-width="1"/><line x1="51.9" y1="478" x2="51.9" y2="473" stroke="#000" stroke-width="1"/><line x1="71.47" y1="17.5" x2="71.47" y2="21.5" stroke="#000" stroke-width="1"/><line x1="71.47" y1="317.5" x2="71.47" y2="313.7" stroke="#000" stroke-width="1"/><line x1="71.47" y1="317.5" x2="71.47" y2="320.1" stroke="#000" stroke-width="1"/><line x1="71.47" y1="478" x2="71.47" y2="475.5" stroke="#000" stroke-width="1"/><line x1="91.04" y1="17.5" x2="91.04" y2="21.5" stroke="#000" stroke-width="1"/><line x1="91.04" y1="317.5" x2="91.04" y2="313.7" stroke="#000" stroke-width="1"/><line x1="91.04" y1="317.5" x2="91.04" y2="320.1" stroke="#000" stroke-width="1"/><line x1="91.04" y1="478" x2="91.04" y2="475.5" stroke="#000" stroke-width="1"/><line x1="110.61" y1="17.5" x2="110.61" y2="21.5" stroke="#000" stroke-width="1"/><line x1="110.61" y1="317.5" x2="110.61" y2="313.7" stroke="#000" stroke-width="1"/><line x1="110.61" y1="317.5" x2="110.61" y2="320.1" stroke="#000" stroke-width="1"/><line x1="110.61" y1="478" x2="110.61" y2="475.5" stroke="#000" stroke-width="1"/><line x1="130.18" y1="17.5" x2="130.18" y2="25.5" stroke="#000" stroke-width="1"/><line x1="130.18" y1="317.5" x2="130.18" y2="309.9" stroke="#000" stroke-width="1"/><line x1="130.18" y1="317.5" x2="130.18" y2="322.4" stroke="#000" stroke-width="1"/><line x1="130.18" y1="478" x2="130.18" y2="473" stroke="#000" stroke-width="1"/><line x1="149.75" y1="17.5" x2="149.75" y2="21.5" stroke="#000" stroke-width="1"/><line x1="149.75" y1="317.5" x2="149.75" y2="313.7" stroke="#000" stroke-width="1"/><line x1="149.75" y1="317.5" x2="149.75" y2="320.1" stroke="#000" stroke-width="1"/><line x1="149.75" y1="478" x2="149.75" y2="475.5" stroke="#000" stroke-width="1"/><line x1="169.32" y1="17.5" x2="169.32" y2="21.5" stroke="#000" stroke-width="1"/><line x1="169.32" y1="317.5" x2="169.32" y2="313.7" stroke="#000" stroke-width="1"/><line x1="169.32" y1="317.5" x2="169.32" y2="320.1" stroke="#000" stroke-width="1"/><line x1="169.32" y1="478" x2="169.32" y2="475.5" stroke="#000" stroke-width="1"/><line x1="188.89" y1="17.5" x2="188.89" y2="21.5" stroke="#000" stroke-width="1"/><line x1="188.89" y1="317.5" x2="188.89" y2="313.7" stroke="#000" stroke-width="1"/><line x1="188.89" y1="317.5" x2="188.89" y2="320.1" stroke="#000" stroke-width="1"/><line x1="188.89" y1="478" x2="188.89" y2="475.5" stroke="#000" stroke-width="1"/><line x1="208.46" y1="17.5" x2="208.46" y2="25.5" stroke="#000" stroke-width="1"/><line x1="208.46" y1="317.5" x2="208.46" y2="309.9" stroke="#000" stroke-width="1"/><line x1="208.46" y1="317.5" x2="208.46" y2="322.4" stroke="#000" stroke-width="1"/><line x1="208.46" y1="478" x2="208.46" y2="473" stroke="#000" stroke-width="1"/><line x1="228.03" y1="17.5" x2="228.03" y2="21.5" stroke="#000" stroke-width="1"/><line x1="228.03" y1="317.5" x2="228.03" y2="313.7" stroke="#000" stroke-width="1"/><line x1="228.03" y1="317.5" x2="228.03" y2="320.1" stroke="#000" stroke-width="1"/><line x1="228.03" y1="478" x2="228.03" y2="475.5" stroke="#000" stroke-width="1"/><line x1="247.6" y1="17.5" x2="247.6" y2="21.5" stroke="#000" stroke-width="1"/><line x1="247.6" y1="317.5" x2="247.6" y2="313.7" stroke="#000" stroke-width="1"/><line x1="247.6" y1="317.5" x2="247.6" y2="320.1" stroke="#000" stroke-width="1"/><line x1="247.6" y1="478" x2="247.6" y2="475.5" stroke="#000" stroke-width="1"/><line x1="267.17" y1="17.5" x2="267.17" y2="21.5" stroke="#000" stroke-width="1"/><line x1="267.17" y1="317.5" x2="267.17" y2="313.7" stroke="#000" stroke-width="1"/><line x1="267.17" y1="317.5" x2="267.17" y2="320.1" stroke="#000" stroke-width="1"/><line x1="267.17" y1="478" x2="267.17" y2="475.5" stroke="#000" stroke-width="1"/><line x1="286.74" y1="17.5" x2="286.74" y2="25.5" stroke="#000" stroke-width="1"/><line x1="286.74" y1="317.5" x2="286.74" y2="309.9" stroke="#000" stroke-width="1"/><line x1="286.74" y1="317.5" x2="286.74" y2="322.4" stroke="#000" stroke-width="1"/><line x1="286.74" y1="478" x2="286.74" y2="473" stroke="#000" stroke-width="1"/><line x1="306.31" y1="17.5" x2="306.31" y2="21.5" stroke="#000" stroke-width="1"/><line x1="306.31" y1="317.5" x2="306.31" y2="313.7" stroke="#000" stroke-width="1"/><line x1="306.31" y1="317.5" x2="306.31" y2="320.1" stroke="#000" stroke-width="1"/><line x1="306.31" y1="478" x2="306.31" y2="475.5" stroke="#000" stroke-width="1"/><line x1="325.88" y1="17.5" x2="325.88" y2="21.5" stroke="#000" stroke-width="1"/><line x1="325.88" y1="317.5" x2="325.88" y2="313.7" stroke="#000" stroke-width="1"/><line x1="325.88" y1="317.5" x2="325.88" y2="320.1" stroke="#000" stroke-width="1"/><line x1="325.88" y1="478" x2="325.88" y2="475.5" stroke="#000" stroke-width="1"/><line x1="345.45" y1="17.5" x2="345.45" y2="21.5" stroke="#000" stroke-width="1"/><line x1="345.45" y1="317.5" x2="345.45" y2="313.7" stroke="#000" stroke-width="1"/><line x1="345.45" y1="317.5" x2="345.45" y2="320.1" stroke="#000" stroke-width="1"/><line x1="345.45" y1="478" x2="345.45" y2="475.5" stroke="#000" stroke-width="1"/><line x1="365.02" y1="17.5" x2="365.02" y2="25.5" stroke="#000" stroke-width="1"/><line x1="365.02" y1="317.5" x2="365.02" y2="309.9" stroke="#000" stroke-width="1"/><line x1="365.02" y1="317.5" x2="365.02" y2="322.4" stroke="#000" stroke-width="1"/><line x1="365.02" y1="478" x2="365.02" y2="473" stroke="#000" stroke-width="1"/><line x1="45.5" y1="313.94" x2="51" y2="313.94" stroke="#000" stroke-width="1"/><line x1="371.5" y1="313.94" x2="366" y2="313.94" stroke="#000" stroke-width="1"/><line x1="45.5" y1="302.64" x2="51" y2="302.64" stroke="#000" stroke-width="1"/><line x1="371.5" y1="302.64" x2="366" y2="302.64" stroke="#000" stroke-width="1"/><line x1="45.5" y1="293.88" x2="51" y2="293.88" stroke="#000" stroke-width="1"/><line x1="371.5" y1="293.88" x2="366" y2="293.88" stroke="#000" stroke-width="1"/><line x1="45.5" y1="286.72" x2="51" y2="286.72" stroke="#000" stroke-width="1"/><line x1="371.5" y1="286.72" x2="366" y2="286.72" stroke="#000" stroke-width="1"/><line x1="45.5" y1="280.66" x2="51" y2="280.66" stroke="#000" stroke-width="1"/><line x1="371.5" y1="280.66" x2="366" y2="280.66" stroke="#000" stroke-width="1"/><line x1="45.5" y1="275.42" x2="51" y2="275.42" stroke="#000" stroke-width="1"/><line x1="371.5" y1="275.42" x2="366" y2="275.42" stroke="#000" stroke-width="1"/><line x1="45.5" y1="270.79" x2="51" y2="270.79" stroke="#000" stroke-width="1"/><line x1="371.5" y1="270.79" x2="366" y2="270.79" stroke="#000" stroke-width="1"/><line x1="45.5" y1="266.65" x2="56.5" y2="266.65" stroke="#000" stroke-width="1"/><line x1="371.5" y1="266.65" x2="360.5" y2="266.65" stroke="#000" stroke-width="1"/><line x1="45.5" y1="239.42" x2="51" y2="239.42" stroke="#000" stroke-width="1"/><line x1="371.5" y1="239.42" x2="366" y2="239.42" stroke="#000" stroke-width="1"/><line x1="45.5" y1="223.49" x2="51" y2="223.49" stroke="#000" stroke-width="1"/><line x1="371.5" y1="223.49" x2="366" y2="223.49" stroke="#000" stroke-width="1"/><line x1="45.5" y1="212.19" x2="51" y2="212.19" stroke="#000" stroke-width="1"/><line x1="371.5" y1="212.19" x2="366" y2="212.19" stroke="#000" stroke-width="1"/><line x1="45.5" y1="203.43" x2="51" y2="203.43" stroke="#000" stroke-width="1"/><line x1="371.5" y1="203.43" x2="366" y2="203.43" stroke="#000" stroke-width="1"/><line x1="45.5" y1="196.27" x2="51" y2="196.27" stroke="#000" stroke-width="1"/><line x1="371.5" y1="196.27" x2="366" y2="196.27" stroke="#000" stroke-width="1"/><line x1="45.5" y1="190.21" x2="51" y2="190.21" stroke="#000" stroke-width="1"/><line x1="371.5" y1="190.21" x2="366" y2="190.21" stroke="#000" stroke-width="1"/><line x1="45.5" y1="184.97" x2="51" y2="184.97" stroke="#000" stroke-width="1"/><line x1="371.5" y1="184.97" x2="366" y2="184.97" stroke="#000" stroke-width="1"/><line x1="45.5" y1="180.34" x2="51" y2="180.34" stroke="#000" stroke-width="1"/><line x1="371.5" y1="180.34" x2="366" y2="180.34" stroke="#000" stroke-width="1"/><line x1="45.5" y1="176.2" x2="56.5" y2="176.2" stroke="#000" stroke-width="1"/><line x1="371.5" y1="176.2" x2="360.5" y2="176.2" stroke="#000" stroke-width="1"/><line x1="45.5" y1="148.97" x2="51" y2="148.97" stroke="#000" stroke-width="1"/><line x1="371.5" y1="148.97" x2="366" y2="148.97" stroke="#000" stroke-width="1"/><line x1="45.5" y1="133.04" x2="51" y2="133.04" stroke="#000" stroke-width="1"/><line x1="371.5" y1="133.04" x2="366" y2="133.04" stroke="#000" stroke-width="1"/><line x1="45.5" y1="121.74" x2="51" y2="121.74" stroke="#000" stroke-width="1"/><line x1="371.5" y1="121.74" x2="366" y2="121.74" stroke="#000" stroke-width="1"/><line x1="45.5" y1="112.98" x2="51" y2="112.98" stroke="#000" stroke-width="1"/><line x1="371.5" y1="112.98" x2="366" y2="112.98" stroke="#000" stroke-width="1"/><line x1="45.5" y1="105.82" x2="51" y2="105.82" stroke="#000" stroke-width="1"/><line x1="371.5" y1="105.82" x2="366" y2="105.82" stroke="#000" stroke-width="1"/><line x1="45.5" y1="99.76" x2="51" y2="99.76" stroke="#000" stroke-width="1"/><line x1="371.5" y1="99.76" x2="366" y2="99.76" stroke="#000" stroke-width="1"/><line x1="45.5" y1="94.52" x2="51" y2="94.52" stroke="#000" stroke-width="1"/><line x1="371.5" y1="94.52" x2="366" y2="94.52" stroke="#000" stroke-width="1"/><line x1="45.5" y1="89.89" x2="51" y2="89.89" stroke="#000" stroke-width="1"/><line x1="371.5" y1="89.89" x2="366" y2="89.89" stroke="#000" stroke-width="1"/><line x1="45.5" y1="85.75" x2="56.5" y2="85.75" stroke="#000" stroke-width="1"/><line x1="371.5" y1="85.75" x2="360.5" y2="85.75" stroke="#000" stroke-width="1"/><line x1="45.5" y1="58.52" x2="51" y2="58.52" stroke="#000" stroke-width="1"/><line x1="371.5" y1="58.52" x2="366" y2="58.52" stroke="#000" stroke-width="1"/><line x1="45.5" y1="42.59" x2="51" y2="42.59" stroke="#000" stroke-width="1"/><line x1="371.5" y1="42.59" x2="366" y2="42.59" stroke="#000" stroke-width="1"/><line x1="45.5" y1="31.29" x2="51" y2="31.29" stroke="#000" stroke-width="1"/><line x1="371.5" y1="31.29" x2="366" y2="31.29" stroke="#000" stroke-width="1"/><line x1="45.5" y1="22.53" x2="51" y2="22.53" stroke="#000" stroke-width="1"/><line x1="371.5" y1="22.53" x2="366" y2="22.53" stroke="#000" stroke-width="1"/><line x1="45.5" y1="477.91" x2="51" y2="477.91" stroke="#000" stroke-width="1"/><line x1="371.5" y1="477.91" x2="366" y2="477.91" stroke="#000" stroke-width="1"/><line x1="45.5" y1="458.4" x2="52.8" y2="458.4" stroke="#000" stroke-width="1"/><line x1="371.5" y1="458.4" x2="364.2" y2="458.4" stroke="#000" stroke-width="1"/><line x1="45.5" y1="442.46" x2="51" y2="442.46" stroke="#000" stroke-width="1"/><line x1="371.5" y1="442.46" x2="366" y2="442.46" stroke="#000" stroke-width="1"/><line x1="45.5" y1="428.98" x2="51" y2="428.98" stroke="#000" stroke-width="1"/><line x1="371.5" y1="428.98" x2="366" y2="428.98" stroke="#000" stroke-width="1"/><line x1="45.5" y1="417.31" x2="51" y2="417.31" stroke="#000" stroke-width="1"/><line x1="371.5" y1="417.31" x2="366" y2="417.31" stroke="#000" stroke-width="1"/><line x1="45.5" y1="407.01" x2="51" y2="407.01" stroke="#000" stroke-width="1"/><line x1="371.5" y1="407.01" x2="366" y2="407.01" stroke="#000" stroke-width="1"/><line x1="45.5" y1="397.8" x2="52.8" y2="397.8" stroke="#000" stroke-width="1"/><line x1="371.5" y1="397.8" x2="364.2" y2="397.8" stroke="#000" stroke-width="1"/><line x1="45.5" y1="389.47" x2="51" y2="389.47" stroke="#000" stroke-width="1"/><line x1="371.5" y1="389.47" x2="366" y2="389.47" stroke="#000" stroke-width="1"/><line x1="45.5" y1="381.86" x2="51" y2="381.86" stroke="#000" stroke-width="1"/><line x1="371.5" y1="381.86" x2="366" y2="381.86" stroke="#000" stroke-width="1"/><line x1="45.5" y1="374.86" x2="51" y2="374.86" stroke="#000" stroke-width="1"/><line x1="371.5" y1="374.86" x2="366" y2="374.86" stroke="#000" stroke-width="1"/><line x1="45.5" y1="368.38" x2="51" y2="368.38" stroke="#000" stroke-width="1"/><line x1="371.5" y1="368.38" x2="366" y2="368.38" stroke="#000" stroke-width="1"/><line x1="45.5" y1="362.35" x2="51" y2="362.35" stroke="#000" stroke-width="1"/><line x1="371.5" y1="362.35" x2="366" y2="362.35" stroke="#000" stroke-width="1"/><line x1="45.5" y1="356.71" x2="51" y2="356.71" stroke="#000" stroke-width="1"/><line x1="371.5" y1="356.71" x2="366" y2="356.71" stroke="#000" stroke-width="1"/><line x1="45.5" y1="351.41" x2="51" y2="351.41" stroke="#000" stroke-width="1"/><line x1="371.5" y1="351.41" x2="366" y2="351.41" stroke="#000" stroke-width="1"/><line x1="45.5" y1="346.41" x2="51" y2="346.41" stroke="#000" stroke-width="1"/><line x1="371.5" y1="346.41" x2="366" y2="346.41" stroke="#000" stroke-width="1"/><line x1="45.5" y1="341.69" x2="51" y2="341.69" stroke="#000" stroke-width="1"/><line x1="371.5" y1="341.69" x2="366" y2="341.69" stroke="#000" stroke-width="1"/><line x1="45.5" y1="337.2" x2="52.8" y2="337.2" stroke="#000" stroke-width="1"/><line x1="371.5" y1="337.2" x2="364.2" y2="337.2" stroke="#000" stroke-width="1"/><line x1="45.5" y1="332.94" x2="51" y2="332.94" stroke="#000" stroke-width="1"/><line x1="371.5" y1="332.94" x2="366" y2="332.94" stroke="#000" stroke-width="1"/><line x1="45.5" y1="328.87" x2="51" y2="328.87" stroke="#000" stroke-width="1"/><line x1="371.5" y1="328.87" x2="366" y2="328.87" stroke="#000" stroke-width="1"/><line x1="45.5" y1="324.98" x2="51" y2="324.98" stroke="#000" stroke-width="1"/><line x1="371.5" y1="324.98" x2="366" y2="324.98" stroke="#000" stroke-width="1"/><line x1="45.5" y1="321.26" x2="51" y2="321.26" stroke="#000" stroke-width="1"/><line x1="371.5" y1="321.26" x2="366" y2="321.26" stroke="#000" stroke-width="1"/><line x1="45.5" y1="317.69" x2="51" y2="317.69" stroke="#000" stroke-width="1"/><line x1="371.5" y1="317.69" x2="366" y2="317.69" stroke="#000" stroke-width="1"/>
<rect x="45.5" y="17.5" width="326" height="300" fill="none" stroke="#000" stroke-width="1"/>
<rect x="45.5" y="317.5" width="326" height="160.5" fill="none" stroke="#000" stroke-width="1"/>
<line x1="45" y1="478" x2="372" y2="478" stroke="#000" stroke-width="2"/>
<g fill="#000">
<text x="50.8" y="14.2" font-size="12.6" textLength="72" lengthAdjust="spacingAndGlyphs">7000 GeV pp</text>
<text x="314.9" y="14.2" font-size="12.6" textLength="51.9" lengthAdjust="spacingAndGlyphs">Soft QCD</text>
<text x="121.2" y="43.1" font-size="12.6" textLength="92.3" lengthAdjust="spacingAndGlyphs">Rapidity gap size</text>
<text x="213.6" y="43.1" font-size="10.4" textLength="83.6" lengthAdjust="spacingAndGlyphs">(pT &gt; 0.8, |η| &lt; 4.9)</text>
<text x="94" y="65" font-size="9.2">ATLAS</text>
<text x="94" y="78" font-size="9.2">Herwig 7.2.1 default</text>
<text x="94" y="91.2" font-size="9.2">Pythia 6.428 370</text>
<text x="94" y="104.3" font-size="9.2">Pythia 8.170 default</text>
<text x="94" y="117.5" font-size="9.2">Sherpa 2.2.9 default</text>
<rect x="73.85" y="59.45" width="5.3" height="5.3" fill="#000"/>
<line x1="64" y1="74.8" x2="88.5" y2="74.8" stroke="#2f9a1f" stroke-opacity="0.75" stroke-dasharray="2.6 2"/>
<rect x="74" y="72.5" width="5" height="5" fill="#fff" stroke="#2f9a1f" stroke-width="1.1"/>
<line x1="64" y1="88" x2="88.5" y2="88" stroke="#9c0a28" stroke-opacity="0.7"/>
<polygon points="76.5,84.61 73.6,90.41 79.4,90.41" fill="#fff" stroke="#9c0a28" stroke-width="1.2"/>
<line x1="64" y1="101.1" x2="88.5" y2="101.1" stroke="#0000f0" stroke-opacity="0.7"/>
<polygon points="76.5,98.04 73.9,103.24 79.1,103.24" fill="#0000f0"/>
<line x1="64" y1="114.3" x2="76" y2="114.3" stroke="#ff0000" stroke-opacity="0.8"/>
<line x1="76" y1="114.3" x2="88.5" y2="114.3" stroke="#ff0000" stroke-dasharray="1 1.3"/>
<polygon points="76.5,111.5 78.45,114.3 76.5,117.1 74.55,114.3" fill="#ff0000"/>
<text x="34.6" y="90.5" font-size="11" text-anchor="end">10</text><text x="34.2" y="86.8" font-size="8.3">2</text>
<text x="40.2" y="180.3" font-size="11.5" text-anchor="end">10</text>
<text x="40.2" y="270.5" font-size="11.5" text-anchor="end">1</text>
<text x="38.6" y="340.5" font-size="11.6" text-anchor="end">2</text>
<text x="373.8" y="340.5" font-size="11.6">2</text>
<text x="38.6" y="401.1" font-size="11.6" text-anchor="end">1</text>
<text x="373.8" y="401.1" font-size="11.6">1</text>
<text x="38.6" y="461.7" font-size="11.6" text-anchor="end">0.5</text>
<text x="373.8" y="461.7" font-size="11.6">0.5</text>
<text x="51.3" y="489" font-size="11.5" text-anchor="middle">0</text>
<text x="129.58" y="489" font-size="11.5" text-anchor="middle">2</text>
<text x="207.86" y="489" font-size="11.5" text-anchor="middle">4</text>
<text x="286.14" y="489" font-size="11.5" text-anchor="middle">6</text>
<text x="364.42" y="489" font-size="11.5" text-anchor="middle">8</text>
<text x="350.8" y="503.8" font-size="11.5">Δη<tspan font-size="7.5" dy="-6.8" dx="0.8">F</tspan></text>
<text transform="translate(17.2,87.6) rotate(-90)" font-size="12" textLength="70.5" lengthAdjust="spacing">dσ / dΔη<tspan font-size="8.5" dy="-5.5" dx="0.3">F</tspan><tspan dy="5.5"> [mb]</tspan></text>
<text transform="translate(18.7,427.5) rotate(-90)" font-size="9">Ratio to ATLAS</text>
</g>
<g fill="#888888">
<text x="166" y="301.8" font-size="8" fill="#a2a2a2">ATLAS_2012_I1084540</text>
<text transform="translate(380.3,132) rotate(-90)" font-size="9.3">Rivet 3.1.10, ≥ 200k events</text>
<text transform="translate(380.3,313.7) rotate(-90)" font-size="9.4">mcplots.cern.ch [arXiv:1306.3436]</text>
</g>
</svg></body></html>
